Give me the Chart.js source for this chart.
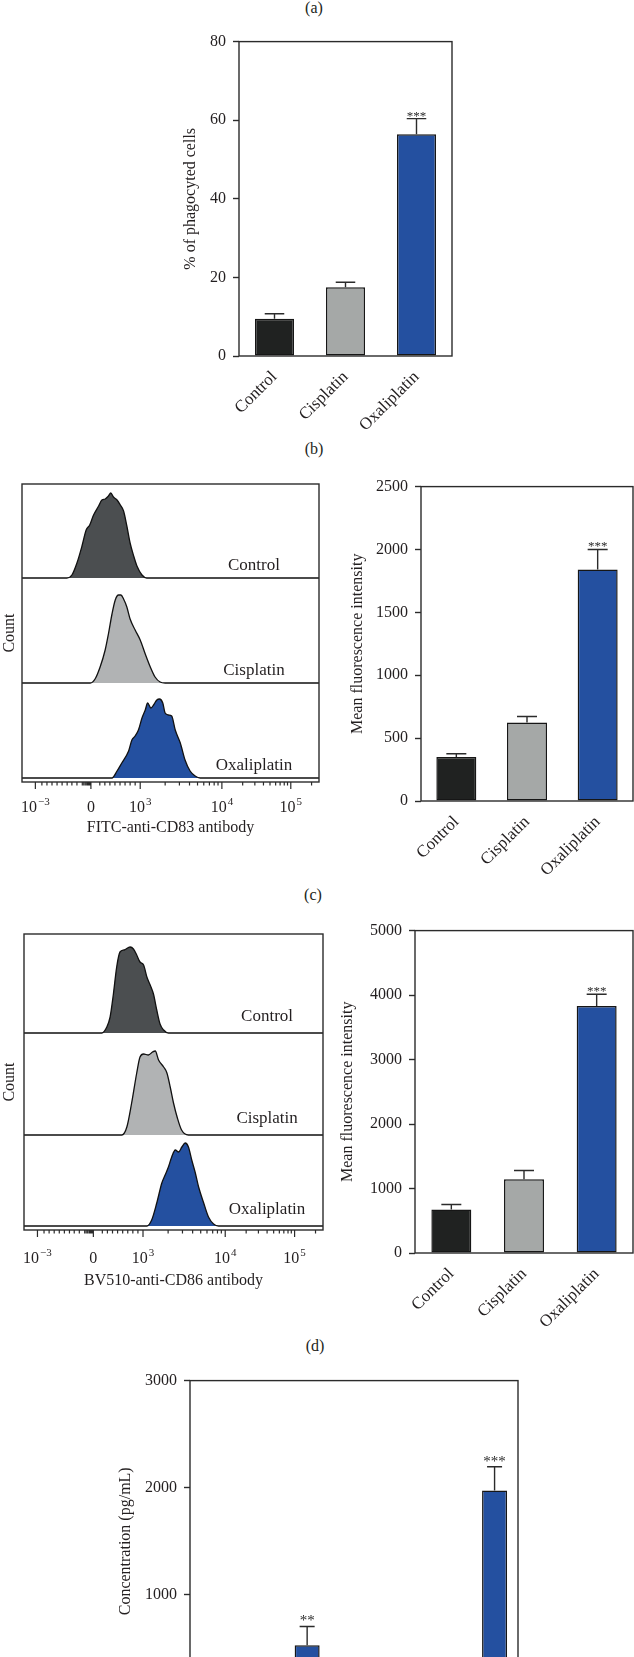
<!DOCTYPE html>
<html>
<head>
<meta charset="utf-8">
<script src="https://cdn.jsdelivr.net/npm/chart.js@4.4.0/dist/chart.umd.min.js"></script>
<style>
  html, body { margin: 0; padding: 0; background: #fff; }
  #page { position: relative; width: 634px; height: 1657px; overflow: hidden; background: #fff;
          font-family: 'Liberation Serif', 'Times New Roman', serif; color: #231f20; }
  .box { position: absolute; }
  .tag { position: absolute; font-size: 16px; transform: translate(-50%, -50%); white-space: nowrap; }
</style>
</head>
<body>
<div id="page">
  <div class="tag" style="left:314px; top:8px">(a)</div>
  <div class="tag" style="left:314px; top:449px">(b)</div>
  <div class="tag" style="left:313px; top:895px">(c)</div>
  <div class="tag" style="left:315px; top:1346px">(d)</div>

  <div class="box" style="left:177px; top:25px; width:285px; height:411px"><canvas id="chartA"></canvas></div>
  <div class="box" style="left:0px; top:474px; width:330px; height:367px"><canvas id="histB"></canvas></div>
  <div class="box" style="left:344px; top:470px; width:290px; height:406px"><canvas id="chartB"></canvas></div>
  <div class="box" style="left:0px; top:924px; width:333px; height:370px"><canvas id="histC"></canvas></div>
  <div class="box" style="left:334px; top:914px; width:300px; height:414px"><canvas id="chartC"></canvas></div>
  <div class="box" style="left:112px; top:1364px; width:416px; height:378px"><canvas id="chartD"></canvas></div>
</div>

<script>
// ---- data ----
const groups = ['Control', 'Cisplatin', 'Oxaliplatin'];
const groupColors = ['#202221', '#a5a8a7', '#2450a0'];
const histColors = ['#4b4e50', '#b1b3b4', '#2450a0'];

// (a) % of phagocyted cells
const phagoMean = [9.5, 17.5, 56.4];
const phagoErr = [1.25, 1.25, 4.0];
const phagoStars = ['', '', '***'];
const phagoTicks = [0, 20, 40, 60, 80];

// (b) CD83 mean fluorescence intensity
const cd83Mean = [350, 625, 1840];
const cd83Err = [26, 47, 160];
const cd83Stars = ['', '', '***'];
const cd83Ticks = [0, 500, 1000, 1500, 2000, 2500];

// (c) CD86 mean fluorescence intensity
const cd86Mean = [676, 1142, 3831];
const cd86Err = [76, 137, 183];
const cd86Stars = ['', '', '***'];
const cd86Ticks = [0, 1000, 2000, 3000, 4000, 5000];

// (d) concentration, only the visible bars (rest cut off below the frame)
const concSlots = ['Control', 'Cisplatin', 'Oxaliplatin', '', 'Control', 'Cisplatin', 'Oxaliplatin'];
const concMean = [null, null, 529, null, null, null, 1974];
const concErr = [null, null, 176, null, null, null, 222];
const concStars = ['', '', '**', '', '', '', '***'];
const concTicks = [0, 1000, 2000, 3000];

// flow histograms: display channel (0-1000) vs count
const histTicks = [45, 232, 398, 673, 905];
const histTickText = [['10', '\u22123'], ['0', ''], ['10', '3'], ['10', '4'], ['10', '5']];
const histMinor = [67, 84, 101, 118, 135, 152, 168, 185, 203, 208, 213, 218, 222, 226, 229,
  262, 279, 296, 313, 330, 347, 364, 381, 482, 530, 564, 591, 612, 631, 647, 660,
  743, 784, 813, 835, 854, 869, 883, 894, 975];

const ctrl83Ch = [151, 168, 185, 202, 216, 228, 241, 258, 269, 280, 291, 299, 308, 320, 331, 342, 353, 364, 376, 387, 404, 420];
const ctrl83Cnt = [0, 3, 15, 32, 48, 53, 63, 72, 78, 79, 82, 85, 81, 78, 73, 67, 52, 35, 22, 12, 3, 0];
const cis83Ch = [230, 246, 263, 280, 291, 303, 314, 325, 333, 342, 353, 364, 381, 398, 415, 432, 448, 465, 482];
const cis83Cnt = [0, 4, 16, 33, 49, 69, 83, 88, 88, 84, 76, 64, 53, 43, 29, 16, 6, 1, 0];
const oxa83Ch = [303, 320, 336, 359, 370, 381, 392, 404, 415, 423, 434, 443, 454, 463, 474, 482, 493, 504, 516, 533, 549, 566, 583, 600];
const oxa83Cnt = [0, 7, 15, 27, 38, 42, 48, 60, 68, 75, 70, 73, 78, 79, 75, 65, 63, 62, 48, 35, 18, 7, 2, 0];

const ctrl86Ch = [260, 277, 288, 299, 310, 321, 335, 355, 366, 377, 388, 400, 411, 422, 433, 444, 455, 467, 483];
const ctrl86Cnt = [0, 6, 16, 39, 66, 81, 83, 86, 84, 78, 71, 68, 56, 48, 39, 23, 9, 3, 0];
const cis86Ch = [327, 344, 360, 377, 388, 400, 416, 430, 439, 450, 467, 478, 489, 500, 513, 527, 550];
const cis86Cnt = [0, 8, 32, 62, 78, 81, 80, 83, 84, 75, 68, 62, 48, 32, 17, 5, 0];
const oxa86Ch = [411, 427, 444, 461, 472, 483, 494, 506, 517, 528, 539, 550, 561, 573, 584, 601, 617, 634, 651];
const oxa86Cnt = [0, 6, 23, 43, 51, 59, 69, 76, 74, 79, 83, 79, 66, 53, 39, 23, 9, 2, 0];

// ---- look ----
const SERIF = "'Liberation Serif', 'Times New Roman', serif";
const INK = '#2b2b2b';
Chart.defaults.font.family = SERIF;
Chart.defaults.font.size = 16;
Chart.defaults.color = '#231f20';
Chart.defaults.animation = false;
Chart.defaults.plugins.legend.display = false;
Chart.defaults.plugins.tooltip.enabled = false;

const framePlugin = {
  id: 'frame',
  afterDraw(chart) {
    const { ctx, chartArea: a } = chart;
    ctx.save();
    ctx.strokeStyle = INK;
    ctx.lineWidth = 1.4;
    ctx.strokeRect(a.left, a.top, a.right - a.left, a.bottom - a.top);
    ctx.restore();
  }
};

const errPlugin = {
  id: 'errbars',
  afterDatasetsDraw(chart, args, opts) {
    const { ctx } = chart;
    const ys = chart.scales.y;
    const ds = chart.data.datasets[0];
    const meta = chart.getDatasetMeta(0);
    ctx.save();
    ctx.strokeStyle = INK;
    ctx.lineWidth = 1.4;
    meta.data.forEach((bar, i) => {
      const v = ds.data[i], e = opts.err[i];
      if (v == null || e == null) return;
      const top = ys.getPixelForValue(v + e);
      const half = bar.width * opts.cap;
      ctx.beginPath();
      ctx.moveTo(bar.x, bar.y);
      ctx.lineTo(bar.x, top);
      ctx.moveTo(bar.x - half, top);
      ctx.lineTo(bar.x + half, top);
      ctx.stroke();
      const s = opts.stars[i];
      if (s) {
        ctx.font = `${opts.starSize}px ${SERIF}`;
        ctx.fillStyle = INK;
        ctx.textAlign = 'center';
        ctx.textBaseline = 'alphabetic';
        ctx.fillText(s, bar.x, top + opts.starDy);
      }
    });
    ctx.restore();
  }
};

const flowPlugin = {
  id: 'flow',
  afterDraw(chart, args, opts) {
    const { ctx, chartArea: a, scales: { x, y } } = chart;
    ctx.save();
    ctx.strokeStyle = INK;
    ctx.lineWidth = 1.2;
    ctx.beginPath();
    histMinor.forEach(v => {
      const px = x.getPixelForValue(v);
      ctx.moveTo(px, a.bottom); ctx.lineTo(px, a.bottom + 3.5);
    });
    histTicks.forEach(v => {
      const px = x.getPixelForValue(v);
      ctx.moveTo(px, a.bottom); ctx.lineTo(px, a.bottom + 7);
    });
    ctx.stroke();

    ctx.fillStyle = '#231f20';
    ctx.textBaseline = 'middle';
    ctx.textAlign = 'left';
    histTickText.forEach(([base, exp], i) => {
      const px = x.getPixelForValue(histTicks[i]);
      ctx.font = `16px ${SERIF}`;
      const wb = ctx.measureText(base).width;
      ctx.font = `11px ${SERIF}`;
      const we = exp ? ctx.measureText(exp).width + 1 : 0;
      const x0 = px - (wb + we) / 2;
      const ly = a.bottom + opts.tickDy;
      ctx.font = `16px ${SERIF}`;
      ctx.fillText(base, x0, ly);
      if (exp) {
        ctx.font = `11px ${SERIF}`;
        ctx.fillText(exp, x0 + wb + 1, ly - 6);
      }
    });

    ctx.font = `17px ${SERIF}`;
    ctx.textAlign = 'center';
    groups.forEach((name, i) => {
      ctx.fillText(name, a.left + opts.labelFrac * (a.right - a.left),
        y.getPixelForValue(opts.offsets[i]) - opts.labelDy);
    });
    ctx.restore();
  }
};

function makeBar(id, cfg) {
  const t = cfg.ticks;
  return new Chart(document.getElementById(id), {
    type: 'bar',
    data: {
      labels: cfg.labels,
      datasets: [{
        data: cfg.values,
        backgroundColor: cfg.colors,
        borderColor: '#161616',
        borderWidth: 1.5,
        borderSkipped: false,
        categoryPercentage: 1,
        barPercentage: cfg.barPct
      }]
    },
    options: {
      responsive: true,
      maintainAspectRatio: false,
      layout: { padding: cfg.pad },
      scales: {
        x: {
          grid: { display: false },
          border: { display: false },
          ticks: { minRotation: 45, maxRotation: 45, padding: 3, font: { size: 17 } },
          afterFit: s => { s.height = cfg.xH; }
        },
        y: {
          min: t[0], max: t[t.length - 1],
          ticks: { stepSize: t[1] - t[0], padding: 7, callback: v => String(v) },
          grid: { drawOnChartArea: false, tickLength: 6, tickColor: INK, tickWidth: 1.4 },
          border: { display: false },
          title: { display: true, text: cfg.yTitle, padding: { top: 4, bottom: 4 } },
          afterFit: s => { s.width = cfg.yW; }
        }
      },
      plugins: {
        errbars: { err: cfg.errs, stars: cfg.stars, cap: cfg.cap || 0.25, starSize: cfg.starSize, starDy: cfg.starDy }
      }
    },
    plugins: [errPlugin, framePlugin]
  });
}

function makeHist(id, rows, offsets, cfg) {
  const datasets = rows.map((r, i) => ({
    data: [{ x: 0, y: offsets[i] },
           ...r.ch.map((c, k) => ({ x: c, y: offsets[i] + r.cnt[k] })),
           { x: 1000, y: offsets[i] }],
    borderColor: '#111',
    borderWidth: 1.3,
    backgroundColor: histColors[i],
    fill: { value: offsets[i] },
    pointRadius: 0,
    cubicInterpolationMode: 'monotone'
  }));
  return new Chart(document.getElementById(id), {
    type: 'line',
    data: { datasets },
    options: {
      responsive: true,
      maintainAspectRatio: false,
      layout: { padding: cfg.pad },
      scales: {
        x: {
          type: 'linear', min: 0, max: 1000,
          grid: { display: false }, border: { display: false },
          ticks: { display: false },
          title: { display: true, text: cfg.xTitle, padding: { top: 4, bottom: 4 } },
          afterFit: s => { s.height = cfg.xH; }
        },
        y: {
          min: 0, max: cfg.yMax,
          grid: { display: false }, border: { display: false },
          ticks: { display: false },
          title: { display: true, text: 'Count', padding: { top: 0, bottom: 0 } },
          afterFit: s => { s.width = cfg.yW; }
        }
      },
      plugins: {
        flow: { offsets, labelFrac: cfg.labelFrac, labelDy: cfg.labelDy, tickDy: cfg.tickDy }
      }
    },
    plugins: [flowPlugin, framePlugin]
  });
}

document.addEventListener('DOMContentLoaded', () => {
  makeBar('chartA', {
    labels: groups, values: phagoMean, errs: phagoErr, stars: phagoStars, colors: groupColors,
    ticks: phagoTicks, yTitle: '% of phagocyted cells', barPct: 0.55,
    pad: { top: 10, right: 10, left: 0, bottom: 0 }, yW: 62, xH: 80, starSize: 13, starDy: 1
  });

  makeHist('histB', [
    { ch: ctrl83Ch, cnt: ctrl83Cnt },
    { ch: cis83Ch, cnt: cis83Cnt },
    { ch: oxa83Ch, cnt: oxa83Cnt }
  ], [204, 99, 4], {
    xTitle: 'FITC-anti-CD83 antibody', yMax: 298, yW: 22, xH: 59,
    pad: { top: 10, right: 11, left: 0, bottom: 0 }, labelFrac: 0.781, labelDy: 12, tickDy: 26
  });

  makeBar('chartB', {
    labels: groups, values: cd83Mean, errs: cd83Err, stars: cd83Stars, colors: groupColors,
    ticks: cd83Ticks, yTitle: 'Mean fluorescence intensity', barPct: 0.566,
    pad: { top: 10, right: 1, left: 0, bottom: 0 }, yW: 77, xH: 75, starSize: 13, starDy: 1
  });

  makeHist('histC', [
    { ch: ctrl86Ch, cnt: ctrl86Cnt },
    { ch: cis86Ch, cnt: cis86Cnt },
    { ch: oxa86Ch, cnt: oxa86Cnt }
  ], [197, 95, 4], {
    xTitle: 'BV510-anti-CD86 antibody', yMax: 296, yW: 24, xH: 64,
    pad: { top: 10, right: 10, left: 0, bottom: 0 }, labelFrac: 0.813, labelDy: 16, tickDy: 29
  });

  makeBar('chartC', {
    labels: groups, values: cd86Mean, errs: cd86Err, stars: cd86Stars, colors: groupColors,
    ticks: cd86Ticks, yTitle: 'Mean fluorescence intensity', barPct: 0.55,
    pad: { top: 10, right: 1, left: 0, bottom: 0 }, yW: 81, xH: 75, starSize: 13, starDy: 1
  });

  makeBar('chartD', {
    labels: concSlots.map(() => ''), values: concMean, errs: concErr, stars: concStars,
    colors: concSlots.map(g => groupColors[Math.max(groups.indexOf(g), 0)]),
    ticks: concTicks, yTitle: 'Concentration (pg/mL)', barPct: 0.534,
    pad: { top: 10, right: 10, left: 0, bottom: 0 }, yW: 78, xH: 40, starSize: 15, starDy: -1, cap: 0.3
  });
});
</script>
</body>
</html>
